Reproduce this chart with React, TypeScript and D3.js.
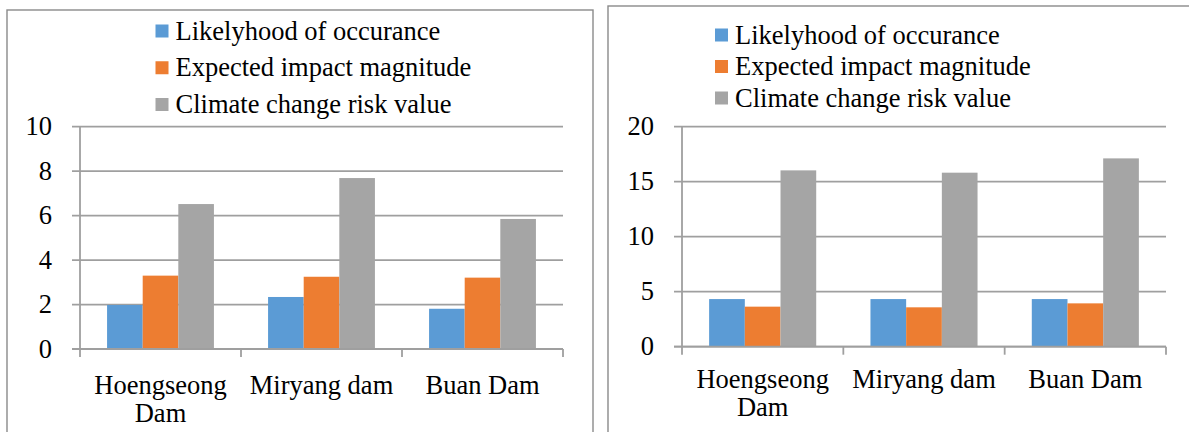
import React, { useEffect, useRef } from "react";
import * as d3 from "d3";

// Dams compared in both panels
const categories = ["Hoengseong Dam", "Miryang dam", "Buan Dam"];
const seriesNames = [
  "Likelyhood of occurance",
  "Expected impact magnitude",
  "Climate change risk value",
];
const seriesColors = ["#5B9BD5", "#ED7D31", "#A5A5A5"];

// Left panel values
const leftLikelihood = [1.98, 2.34, 1.81];
const leftImpact = [3.3, 3.25, 3.21];
const leftRisk = [6.52, 7.69, 5.85];
const leftTicks = [0, 2, 4, 6, 8, 10];

// Right panel values
const rightLikelihood = [4.33, 4.33, 4.33];
const rightImpact = [3.64, 3.58, 3.94];
const rightRisk = [16.03, 15.82, 17.12];
const rightTicks = [0, 5, 10, 15, 20];

const FONT = '"Liberation Serif", "Times New Roman", Tinos, "DejaVu Serif", "Noto Serif", serif';
const FONT_SIZE = 26.5;
const LINE = "#9f9f9f";
const FRAME = "#8a8a8a";

type PanelCfg = {
  frame: { x: number; y: number; w: number; h: number };
  plot: { left: number; right: number; top: number; bottom: number };
  ticks: number[];
  series: number[][];
  legend: { x: number; y: number; step: number };
  labelDy: number;
};

function drawPanel(svg: d3.Selection<SVGSVGElement, unknown, null, undefined>, cfg: PanelCfg) {
  const g = svg.append("g").style("font-family", FONT).style("font-size", `${FONT_SIZE}px`);
  const { plot } = cfg;

  // outer frame
  g.append("rect")
    .attr("x", cfg.frame.x)
    .attr("y", cfg.frame.y)
    .attr("width", cfg.frame.w)
    .attr("height", cfg.frame.h)
    .attr("fill", "none")
    .attr("stroke", FRAME)
    .attr("stroke-width", 1.4);

  const yMax = d3.max(cfg.ticks) as number;
  const y = d3.scaleLinear().domain([0, yMax]).range([plot.bottom, plot.top]);
  const x0 = d3.scaleBand<string>().domain(categories).range([plot.left, plot.right]).paddingInner(0).paddingOuter(0);
  const x1 = d3.scaleBand<string>().domain(seriesNames).range([0, x0.bandwidth()]).paddingInner(0).paddingOuter(0.76);

  // horizontal gridlines
  g.append("g")
    .selectAll("line")
    .data(cfg.ticks)
    .join("line")
    .attr("x1", plot.left - 8)
    .attr("x2", plot.right)
    .attr("y1", (d) => y(d))
    .attr("y2", (d) => y(d))
    .attr("stroke", LINE)
    .attr("stroke-width", 1.8);

  // y-axis tick labels
  g.append("g")
    .selectAll("text")
    .data(cfg.ticks)
    .join("text")
    .attr("x", plot.left - 28)
    .attr("y", (d) => y(d))
    .attr("dy", "0.33em")
    .attr("text-anchor", "end")
    .attr("fill", "#000")
    .text((d) => String(d));

  // bars
  const rows = categories.map((c, i) => ({ c, vals: cfg.series.map((s) => s[i]) }));
  const groups = g
    .append("g")
    .selectAll("g")
    .data(rows)
    .join("g")
    .attr("transform", (d) => `translate(${x0(d.c)},0)`);
  groups
    .selectAll("rect")
    .data((d) => d.vals.map((v, k) => ({ v, k })))
    .join("rect")
    .attr("x", (d) => x1(seriesNames[d.k]) as number)
    .attr("width", x1.bandwidth())
    .attr("y", (d) => y(d.v))
    .attr("height", (d) => y(0) - y(d.v))
    .attr("fill", (d) => seriesColors[d.k]);

  // axes lines and category ticks
  g.append("line")
    .attr("x1", plot.left)
    .attr("x2", plot.left)
    .attr("y1", plot.top)
    .attr("y2", plot.bottom + 8)
    .attr("stroke", LINE)
    .attr("stroke-width", 1.8);
  g.append("line")
    .attr("x1", plot.left - 8)
    .attr("x2", plot.right)
    .attr("y1", plot.bottom)
    .attr("y2", plot.bottom)
    .attr("stroke", LINE)
    .attr("stroke-width", 1.8);
  const bounds = categories.map((c) => (x0(c) as number) + x0.bandwidth());
  g.append("g")
    .selectAll("line")
    .data(bounds)
    .join("line")
    .attr("x1", (d) => d)
    .attr("x2", (d) => d)
    .attr("y1", plot.bottom)
    .attr("y2", plot.bottom + 8)
    .attr("stroke", LINE)
    .attr("stroke-width", 1.8);

  // category labels, wrapped to the band width
  const lab = g
    .append("g")
    .selectAll("text")
    .data(categories)
    .join("text")
    .attr("x", (d) => (x0(d) as number) + x0.bandwidth() / 2)
    .attr("y", plot.bottom + cfg.labelDy)
    .attr("text-anchor", "middle")
    .attr("fill", "#000");
  lab.each(function (d) {
    const t = d3.select(this as SVGTextElement);
    const words = d.split(" ");
    const cx = (x0(d) as number) + x0.bandwidth() / 2;
    let line: string[] = [];
    let tspan = t.append("tspan").attr("x", cx).attr("dy", 0);
    for (const w of words) {
      line.push(w);
      tspan.text(line.join(" "));
      const len = (tspan.node() as SVGTSpanElement).getComputedTextLength();
      if (len > x0.bandwidth() - 6 && line.length > 1) {
        line.pop();
        tspan.text(line.join(" "));
        line = [w];
        tspan = t.append("tspan").attr("x", cx).attr("dy", 27.5).text(w);
      }
    }
  });

  // legend
  const leg = g
    .append("g")
    .selectAll("g")
    .data(seriesNames)
    .join("g")
    .attr("transform", (_d, i) => `translate(${cfg.legend.x},${cfg.legend.y + i * cfg.legend.step})`);
  leg
    .append("rect")
    .attr("x", 0)
    .attr("y", -6.5)
    .attr("width", 13)
    .attr("height", 13)
    .attr("fill", (_d, i) => seriesColors[i]);
  leg
    .append("text")
    .attr("x", 20)
    .attr("y", 8.5)
    .attr("fill", "#000")
    .text((d) => d);
}

export default function App() {
  const ref = useRef<SVGSVGElement>(null);

  useEffect(() => {
    if (!ref.current) return;
    const svg = d3.select(ref.current);
    svg.selectAll("*").remove();
    svg.append("rect").attr("width", 1189).attr("height", 432).attr("fill", "#fff");

    drawPanel(svg, {
      frame: { x: 7, y: 10, w: 586, h: 460 },
      plot: { left: 80, right: 563, top: 126.7, bottom: 349 },
      ticks: leftTicks,
      series: [leftLikelihood, leftImpact, leftRisk],
      legend: { x: 155.5, y: 31, step: 36.75 },
      labelDy: 45,
    });

    drawPanel(svg, {
      frame: { x: 608, y: 6, w: 620, h: 460 },
      plot: { left: 682, right: 1166, top: 126.7, bottom: 346.7 },
      ticks: rightTicks,
      series: [rightLikelihood, rightImpact, rightRisk],
      legend: { x: 715, y: 35, step: 31.5 },
      labelDy: 41.5,
    });
  }, []);

  return (
    <svg
      ref={ref}
      width={1189}
      height={432}
      style={{ position: "absolute", left: 0, top: 0, display: "block" }}
    />
  );
}
